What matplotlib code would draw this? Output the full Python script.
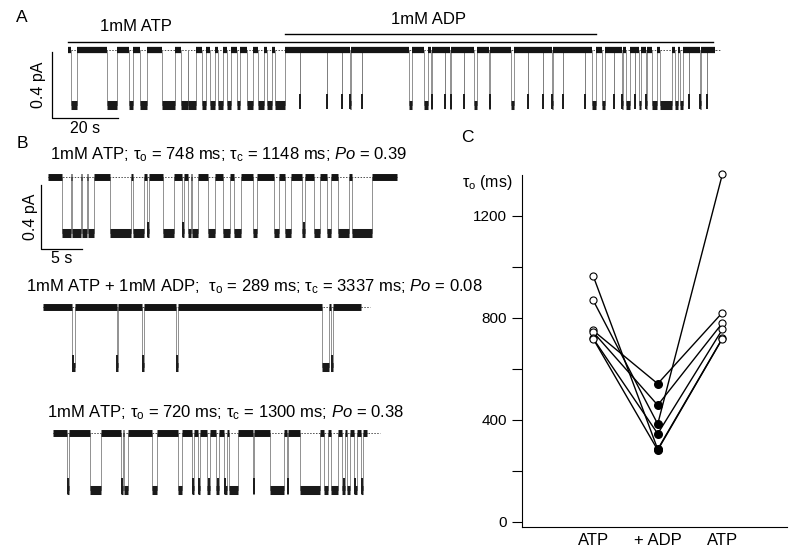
import numpy as np
import matplotlib
matplotlib.use('Agg')
import matplotlib.pyplot as plt

plt.rcParams['font.family'] = ['Liberation Sans', 'DejaVu Sans']
plt.rcParams['mathtext.fontset'] = 'custom'
plt.rcParams['mathtext.rm'] = 'Liberation Sans'
plt.rcParams['mathtext.it'] = 'Liberation Sans:italic'

W, H = 800, 556

# ---- single channel records: open intervals (start, end) in s, amplitude in pA ----
# panel A, long record (ATP, then ATP+ADP, then ATP)
a_len = 196.0
a_amp = 0.333
a_open = [(0.7, 2.7), (11.6, 14.8), (18.5, 19.5), (21.7, 23.9), (28.3, 32.3),
          (34.3, 36.2), (36.4, 38.7), (40.4, 41.7), (42.9, 44.4), (45.5, 47.0),
          (48.0, 49.2), (51.0, 52.0), (54.0, 56.1), (57.6, 59.3), (60.1, 61.6),
          (62.6, 65.7), (70.2, 70.35), (78.3, 78.45), (82.8, 82.95), (85.4, 85.55),
          (88.9, 89.05), (103.3, 104.3), (107.7, 109.0), (110.0, 110.15),
          (114.0, 114.15), (115.8, 115.95), (119.8, 119.95), (122.8, 123.8),
          (127.6, 127.75), (134.0, 135.0), (139.3, 139.45), (143.7, 143.85),
          (146.6, 146.75), (149.9, 150.05), (156.5, 156.65), (158.7, 159.9),
          (161.7, 162.7), (165.3, 165.45), (167.8, 167.95), (169.0, 170.3),
          (171.6, 171.75), (172.8, 173.4), (175.1, 175.25), (176.9, 178.4),
          (179.4, 182.9), (184.0, 184.8), (185.5, 186.2), (188.0, 188.15),
          (191.5, 191.65), (193.5, 193.65)]
atp_bar = (0.0, 195.5)
adp_bar = (65.8, 160.0)

# panel B, three shorter records
b1_len = 42.5
b1_amp = 0.35
b1_open = [(1.7, 2.76), (2.85, 3.98), (4.07, 4.72), (4.8, 5.61), (7.52, 10.08),
           (10.37, 11.71), (11.99, 12.28), (14.02, 15.37), (16.34, 16.59),
           (16.99, 17.36), (17.56, 18.21), (19.43, 20.33), (21.34, 22.15),
           (22.68, 23.5), (25.0, 25.41), (27.56, 28.17), (28.86, 29.59),
           (30.98, 31.3), (32.44, 33.13), (34.02, 34.47), (35.37, 36.67),
           (36.99, 39.43)]
b1_title = r'1mM ATP; τ$_\mathrm{o}$ = 748 ms; τ$_\mathrm{c}$ = 1148 ms; $\mathit{Po}$ = 0.39'

b2_len = 38.8
b2_amp = 0.375
b2_open = [(3.46, 3.86), (8.94, 9.15), (11.99, 12.28), (16.18, 16.42),
           (33.94, 34.8), (35.04, 35.37)]
b2_title = r'1mM ATP + 1mM ADP;  τ$_\mathrm{o}$ = 289 ms; τ$_\mathrm{c}$ = 3337 ms; $\mathit{Po}$ = 0.08'

b3_len = 38.3
b3_amp = 0.356
b3_open = [(1.63, 1.91), (4.47, 5.81), (8.25, 8.54), (8.66, 9.15), (12.07, 12.6),
           (15.16, 15.65), (16.87, 17.2), (17.6, 17.89), (18.78, 19.11),
           (19.88, 20.2), (20.81, 21.14), (21.42, 22.56), (24.39, 24.51),
           (26.42, 28.17), (28.5, 28.66), (30.08, 32.52), (33.05, 33.46),
           (33.86, 34.76), (35.24, 35.57), (35.77, 36.18), (36.71, 36.99),
           (37.52, 37.8)]
b3_title = r'1mM ATP; τ$_\mathrm{o}$ = 720 ms; τ$_\mathrm{c}$ = 1300 ms; $\mathit{Po}$ = 0.38'

# panel C, mean open time per patch (ms)
conditions = ['ATP', '+ ADP', 'ATP']
tau_atp1 = [750, 744, 869, 965, 719, 718]
tau_adp = [541, 457, 383, 284, 345, 281]
tau_atp2 = [820, 779, 1363, 719, 754, 718]


def trace_ax(box, t0_px, px_s, y0_px, px_pa):
    l, r, t, b = box
    ax = fig.add_axes([l / W, 1 - b / H, (r - l) / W, (b - t) / H])
    ax.set_xlim((l - t0_px) / px_s, (r - t0_px) / px_s)
    ax.set_ylim((y0_px - b) / px_pa, (y0_px - t) / px_pa)
    ax.axis('off')
    return ax


def draw_trace(ax, length, amp, events, dash_end, brief, lw_c=5.0, lw_o=6.5):
    xs, ys = [0.0], [0.0]
    closed = []
    last = 0.0
    for s, e in events:
        closed.append((last, s))
        xs += [s, s, e, e]
        ys += [0, -amp, -amp, 0]
        last = e
    closed.append((last, length))
    xs.append(length)
    ys.append(0.0)
    ax.plot([0, dash_end], [0, 0], color='0.3', lw=0.7, ls=(0, (1.5, 1.5)), zorder=1)
    ax.plot(xs, ys, color='0.5', lw=0.6, zorder=2)
    ax.hlines(np.zeros(len(closed)), [c[0] for c in closed], [c[1] for c in closed],
              color='0.08', lw=lw_c, capstyle='butt', zorder=3)
    ax.hlines(np.full(len(events), -amp), [o[0] for o in events], [o[1] for o in events],
              color='0.1', lw=lw_o, capstyle='butt', zorder=3)
    # brief openings end in a dark tail, like spikes
    mids = [(s + e) / 2 for s, e in events if e - s < brief]
    ax.vlines(mids, -amp * 1.08, -amp * 0.8, color='0.1', lw=1.4, zorder=3)


fig = plt.figure(figsize=(8, 5.56), dpi=100)

# ---- A ----
axA = trace_ax((15, 725, 5, 140), 68.3, 3.3, 50, 165)
draw_trace(axA, a_len, a_amp, a_open, 197.5, 0.5, lw_c=4.5, lw_o=6.5)
axA.plot(atp_bar, [0.048, 0.048], color='black', lw=1)
axA.plot(adp_bar, [0.097, 0.097], color='black', lw=1)
axA.text(20.5, 0.14, '1mM ATP', ha='center', va='center', fontsize=12)
axA.text(109.3, 0.182, '1mM ADP', ha='center', va='center', fontsize=12)
axA.plot([-4.94, -4.94, 15.06], [-0.012, -0.412, -0.412], color='black', lw=0.9)
axA.text(5.0, -0.475, '20 s', ha='center', va='center', fontsize=11.5)
axA.text(-9.0, -0.21, '0.4 pA', ha='center', va='center', rotation=90, fontsize=11.5)
fig.text(22 / W, 1 - 18 / H, 'A', ha='center', va='center', fontsize=12.5)

# ---- B ----
fig.text(22 / W, 1 - 143 / H, 'B', ha='center', va='center', fontsize=12.5)
axB1 = trace_ax((15, 420, 145, 270), 48.3, 8.2, 177, 160)
draw_trace(axB1, b1_len, b1_amp, b1_open, b1_len, 0.35)
axB1.text(21.98, 0.1375, b1_title, ha='center', va='center', fontsize=12)
axB1.plot([-0.89, -0.89, 4.11], [-0.05, -0.45, -0.45], color='black', lw=0.9)
axB1.text(1.67, -0.51, '5 s', ha='center', va='center', fontsize=11.5)
axB1.text(-2.2, -0.25, '0.4 pA', ha='center', va='center', rotation=90, fontsize=11.5)

axB2 = trace_ax((15, 490, 275, 390), 43.3, 8.2, 307, 160)
draw_trace(axB2, b2_len, b2_amp, b2_open, 39.8, 0.45)
axB2.text(25.7, 0.125, b2_title, ha='center', va='center', fontsize=12)

axB3 = trace_ax((15, 420, 400, 510), 53.3, 8.2, 432.7, 160)
draw_trace(axB3, b3_len, b3_amp, b3_open, 39.8, 0.35)
axB3.text(21.0, 0.123, b3_title, ha='center', va='center', fontsize=12)

# ---- C ----
fig.text(467 / W, 1 - 137 / H, 'C', ha='center', va='center', fontsize=12.5)
axC = fig.add_axes([522 / W, 1 - 527 / H, 265 / W, 352 / H])
xpos = [1, 2, 3]
for a1, ad, a2 in zip(tau_atp1, tau_adp, tau_atp2):
    axC.plot(xpos, [a1, ad, a2], color='black', lw=1, zorder=2, clip_on=False)
axC.scatter([1] * len(tau_atp1), tau_atp1, s=26, facecolor='white',
            edgecolor='black', linewidth=0.8, zorder=3, clip_on=False)
axC.scatter([3] * len(tau_atp2), tau_atp2, s=26, facecolor='white',
            edgecolor='black', linewidth=0.8, zorder=3, clip_on=False)
axC.scatter([2] * len(tau_adp), tau_adp, s=30, color='black', zorder=3)
axC.set_xlim(-0.1, 4.0)
axC.set_ylim(-21, 1360)
axC.spines['top'].set_visible(False)
axC.spines['right'].set_visible(False)
axC.set_yticks([0, 200, 400, 600, 800, 1000, 1200])
axC.set_yticklabels(['0', '', '400', '', '800', '', '1200'])
axC.set_xticks(xpos)
axC.set_xticklabels(conditions)
axC.tick_params(axis='y', length=7, width=0.8, labelsize=11, pad=4)
axC.tick_params(axis='x', length=0, labelsize=12, pad=4)
axC.text(-0.24, 1332, r'τ$_\mathrm{o}$ (ms)', ha='right', va='center', fontsize=11.5)

fig.savefig('out.png', dpi=100)
